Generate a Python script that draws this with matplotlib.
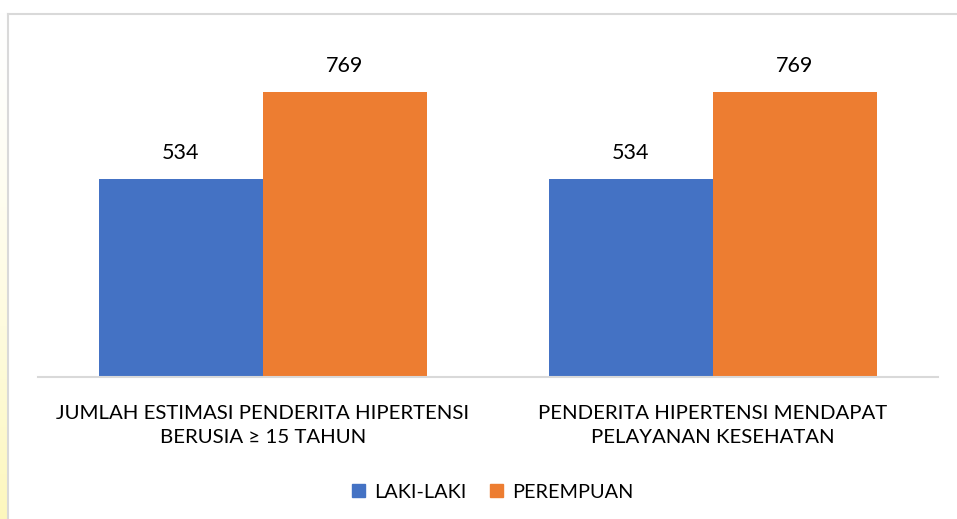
import numpy as np
import matplotlib.pyplot as plt
from matplotlib.lines import Line2D
from matplotlib.patches import Patch
from matplotlib.colors import LinearSegmentedColormap

categories = ['JUMLAH ESTIMASI PENDERITA HIPERTENSI\nBERUSIA \u2265 15 TAHUN',
              'PENDERITA HIPERTENSI MENDAPAT\nPELAYANAN KESEHATAN']
series_names = ['LAKI-LAKI', 'PEREMPUAN']
laki = [534, 534]
perempuan = [769, 769]
colors = ['#4472C4', '#ED7D31']

plt.rcParams['font.family'] = ['Lato', 'DejaVu Sans']

W, H = 957, 519
fig = plt.figure(figsize=(W / 100, H / 100), dpi=100)

# yellowish strip on the left edge
strip = fig.add_axes([0, 0, 7 / W, 1])
grad = np.linspace(0, 1, 256).reshape(-1, 1) ** 1.5
cm = LinearSegmentedColormap.from_list('y', ['#ffffff', '#fdf7bd'])
strip.imshow(grad, aspect='auto', cmap=cm, extent=[0, 1, 0, 1], origin='upper')
strip.axis('off')

# chart frame (top and left edges visible)
fig.add_artist(Line2D([8 / W, 8 / W], [0, 1 - 14 / H], color='#d9d9d9', lw=1.5))
fig.add_artist(Line2D([8 / W, 1], [1 - 14 / H, 1 - 14 / H], color='#d9d9d9', lw=1.5))

left, right = 38, 938
top, bottom = 43, 377
ax = fig.add_axes([left / W, 1 - bottom / H, (right - left) / W, (bottom - top) / H])

x = np.arange(len(categories))
bw = 164 / 450
b1 = ax.bar(x - bw / 2, laki, bw, color=colors[0], label=series_names[0])
b2 = ax.bar(x + bw / 2, perempuan, bw, color=colors[1], label=series_names[1])
for bars in (b1, b2):
    for r in bars:
        ax.text(r.get_x() + r.get_width() / 2, r.get_height() + 42, str(int(r.get_height())),
                ha='center', va='bottom', fontsize=15.5, color='#000000')

ax.set_xlim(-0.5, 1.5)
ax.set_ylim(0, 900)
ax.set_yticks([])
ax.set_xticks(x)
ax.set_xticklabels(categories, fontsize=14.7, linespacing=1.5)
ax.tick_params(axis='x', length=0, pad=20)
for s in ['top', 'right', 'left']:
    ax.spines[s].set_visible(False)
ax.spines['bottom'].set_color('#d9d9d9')
ax.spines['bottom'].set_linewidth(1.5)

handles = [Patch(color=colors[0]), Patch(color=colors[1])]
fig.legend(handles, series_names, loc='center', bbox_to_anchor=(493 / W, 1 - 492 / H),
           ncol=2, frameon=False, fontsize=14.3, handlelength=0.65, handleheight=0.65,
           handletextpad=0.45, columnspacing=1.2)

fig.savefig('out.png', dpi=100)
